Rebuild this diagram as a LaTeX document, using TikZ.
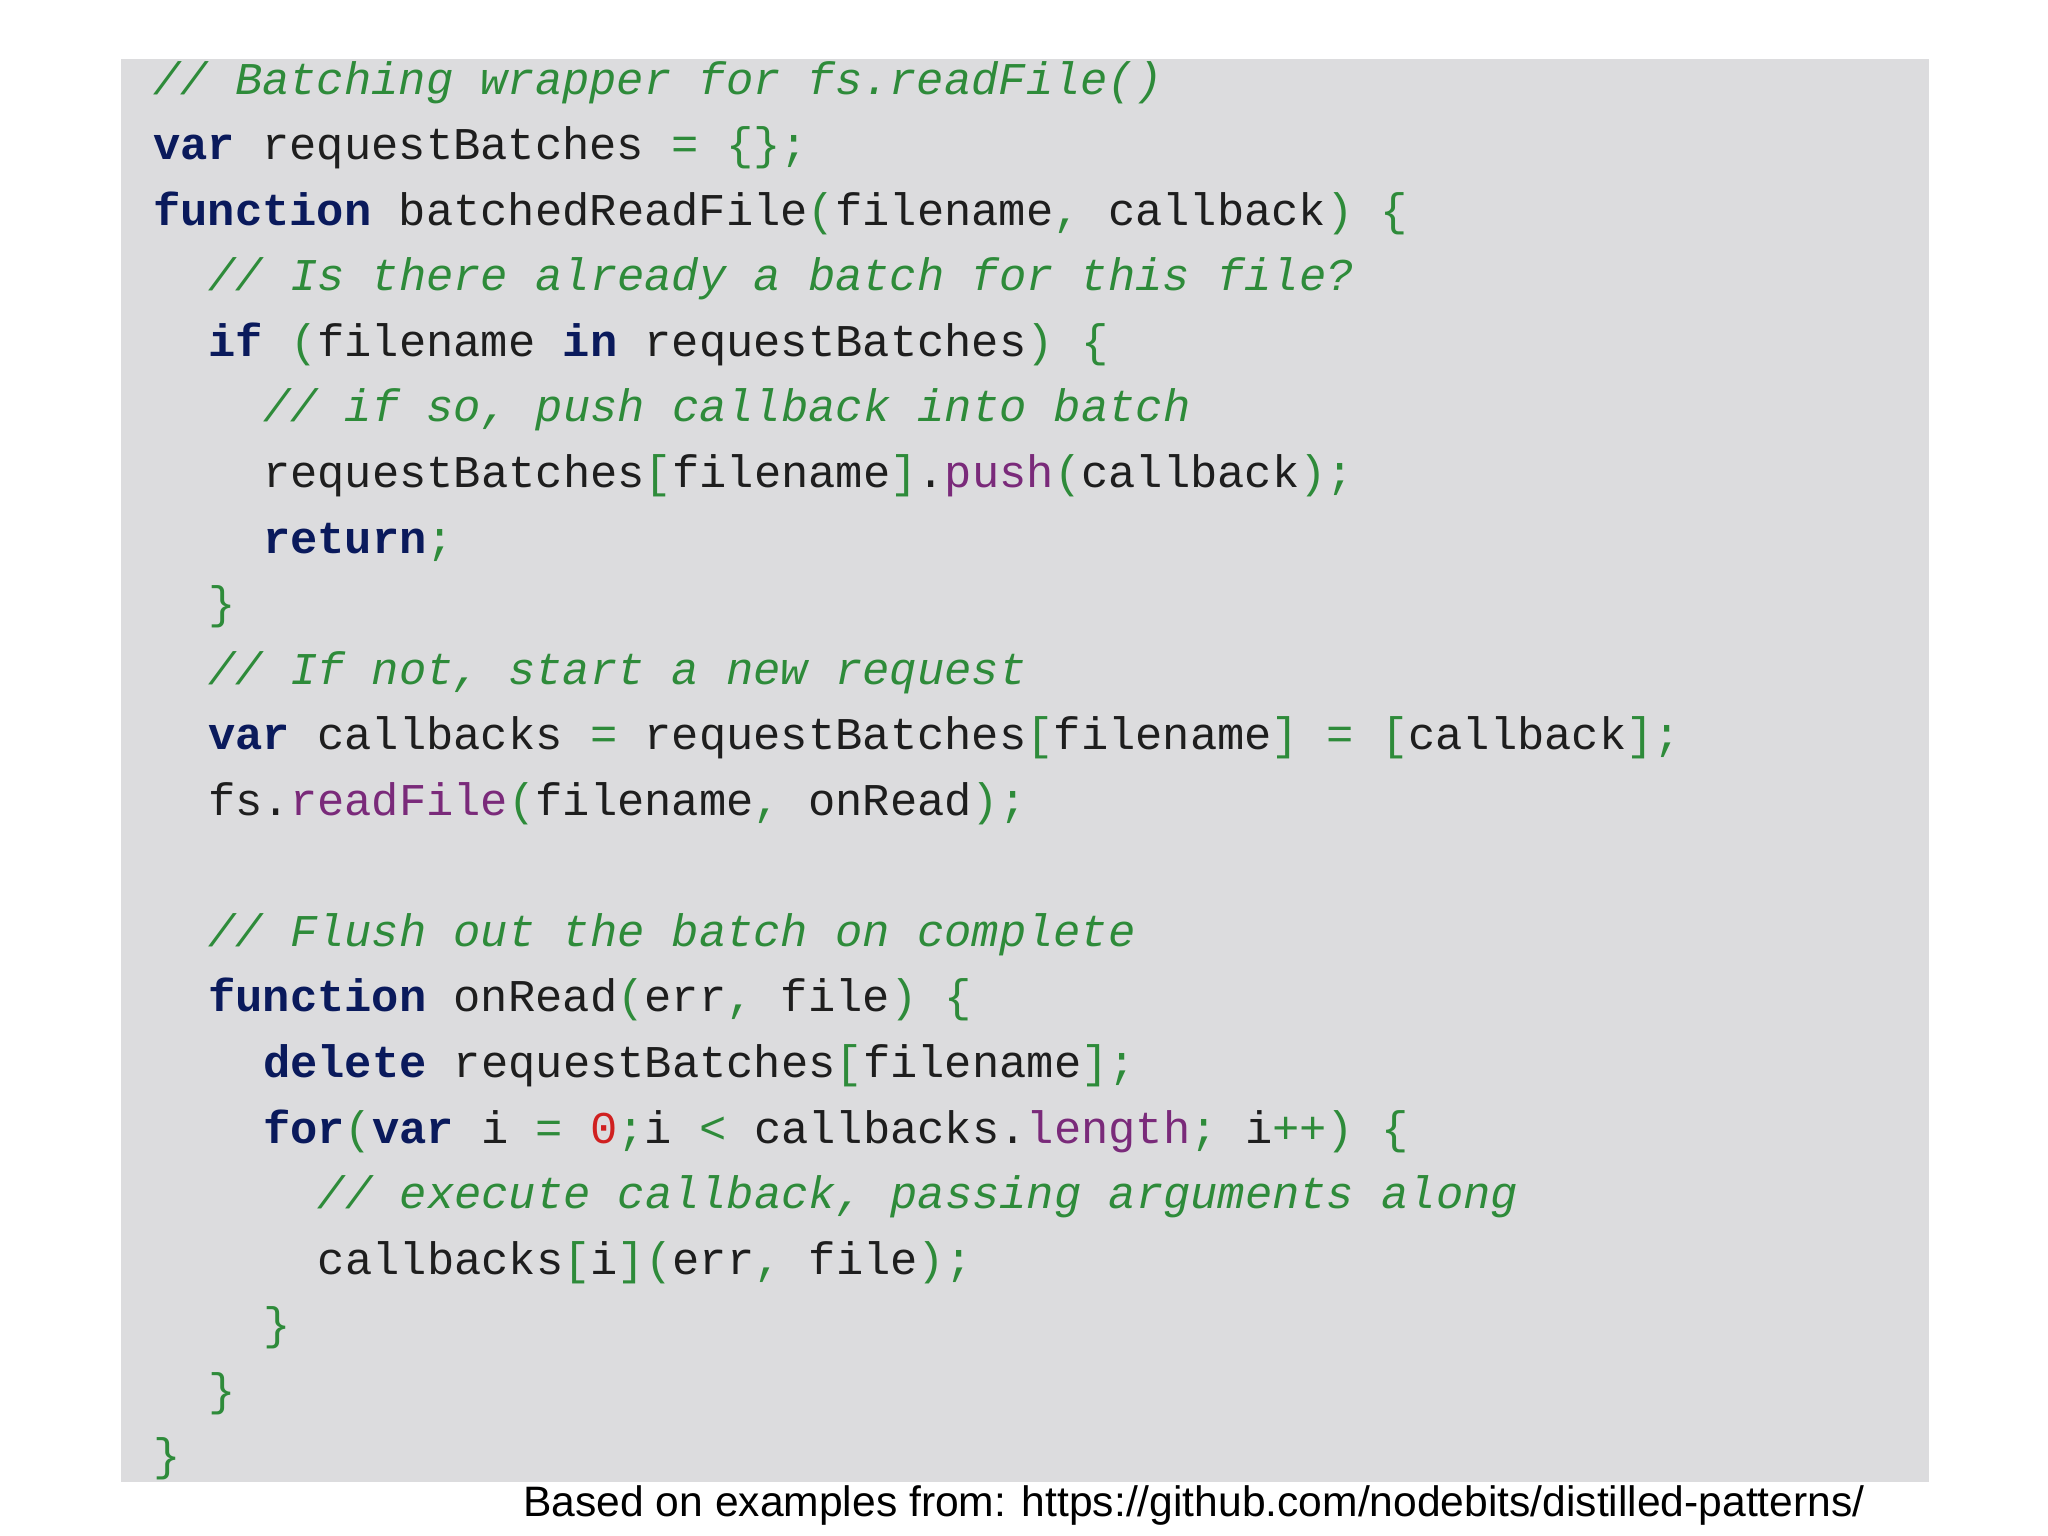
\documentclass[tikz,border=0pt]{standalone}
\usepackage{fontspec}
\setmainfont{Liberation Sans}
\newfontfamily\code{Liberation Mono}
\definecolor{bg}{HTML}{DCDCDE}
\definecolor{kwc}{HTML}{0A1A5C}
\definecolor{cmc}{HTML}{2E8B3A}
\definecolor{mc}{HTML}{7A2A7A}
\definecolor{nc}{HTML}{D02020}
\definecolor{tc}{HTML}{1E1E1E}
\newcommand\kw[1]{{\bfseries\color{kwc}#1}}
\newcommand\cm[1]{{\itshape\color{cmc}#1}}
\newcommand\pp[1]{{\color{cmc}#1}}
\newcommand\mm[1]{{\color{mc}#1}}
\newcommand\nn[1]{{\color{nc}#1}}
\begin{document}
\begin{tikzpicture}[x=0.5pt,y=-0.5pt,
  codeline/.style={anchor=base west,inner sep=0pt,font=\code\fontsize{17.4}{20}\selectfont,text=tc}]
\useasboundingbox (0,0) rectangle (1568,1176);
\fill[white] (0,0) rectangle (1568,1176);
\fill[bg] (93,45) rectangle (1477,1135);
\def\L{50.2}
\node[codeline] (l1) at (117,72) {\cm{// Batching wrapper for fs.readFile()}};
\node[codeline] (l2) at (117,72+1*\L) {\kw{var} requestBatches \pp{= \{\};}};
\node[codeline] (l3) at (117,72+2*\L) {\kw{function} batchedReadFile\pp{(}filename\pp{,} callback\pp{)} \pp{\{}};
\node[codeline] (l4) at (159,72+3*\L) {\cm{// Is there already a batch for this file?}};
\node[codeline] (l5) at (159,72+4*\L) {\kw{if} \pp{(}filename \kw{in} requestBatches\pp{)} \pp{\{}};
\node[codeline] (l6) at (201,72+5*\L) {\cm{// if so, push callback into batch}};
\node[codeline] (l7) at (201,72+6*\L) {requestBatches\pp{[}filename\pp{]}.\mm{push}\pp{(}callback\pp{);}};
\node[codeline] (l8) at (201,72+7*\L) {\kw{return}\pp{;}};
\node[codeline] (l9) at (159,72+8*\L) {\pp{\}}};
\node[codeline] (l10) at (159,72+9*\L) {\cm{// If not, start a new request}};
\node[codeline] (l11) at (159,72+10*\L) {\kw{var} callbacks \pp{=} requestBatches\pp{[}filename\pp{]} \pp{= [}callback\pp{];}};
\node[codeline] (l12) at (159,72+11*\L) {fs.\mm{readFile}\pp{(}filename\pp{,} onRead\pp{);}};
\node[codeline] (l14) at (159,72+13*\L) {\cm{// Flush out the batch on complete}};
\node[codeline] (l15) at (159,72+14*\L) {\kw{function} onRead\pp{(}err\pp{,} file\pp{)} \pp{\{}};
\node[codeline] (l16) at (201,72+15*\L) {\kw{delete} requestBatches\pp{[}filename\pp{];}};
\node[codeline] (l17) at (201,72+16*\L) {\kw{for}\pp{(}\kw{var} i \pp{=} \nn{0}\pp{;}i \pp{<} callbacks.\mm{length}\pp{;} i\pp{++)} \pp{\{}};
\node[codeline] (l18) at (243,72+17*\L) {\cm{// execute callback, passing arguments along}};
\node[codeline] (l19) at (243,72+18*\L) {callbacks\pp{[}i\pp{](}err\pp{,} file\pp{);}};
\node[codeline] (l20) at (201,72+19*\L) {\pp{\}}};
\node[codeline] (l21) at (159,72+20*\L) {\pp{\}}};
\node[codeline] (l22) at (117,72+21*\L) {\pp{\}}};
\node[anchor=base east,inner sep=0pt,font=\fontsize{16.3}{19}\selectfont] (foot) at (1428,1161) {Based on examples from: https://github.com/nodebits/distilled-patterns/};
\end{tikzpicture}
\end{document}
